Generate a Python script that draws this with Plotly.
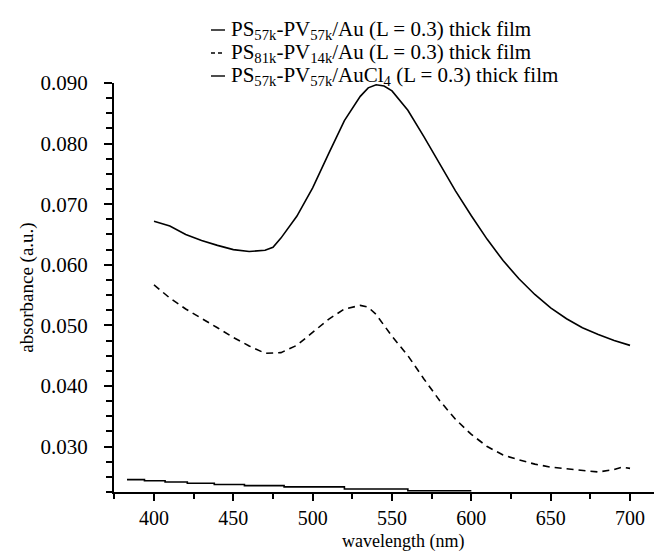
import plotly.graph_objects as go

# Wavelength (nm) and absorbance values
wl_au57 = [400, 410, 420, 430, 440, 450, 460, 470, 475, 480, 490, 500, 510, 520, 530,
           535, 540, 545, 550, 560, 570, 580, 590, 600, 610, 620, 630, 640, 650, 660,
           670, 680, 690, 700]
abs_au57 = [0.0672, 0.0664, 0.0650, 0.0640, 0.0632, 0.0625, 0.0622, 0.0624, 0.0629, 0.0644,
            0.0680, 0.0727, 0.0783, 0.0838, 0.0878, 0.0892, 0.0897, 0.0895, 0.0887, 0.0855,
            0.0812, 0.0766, 0.0722, 0.0681, 0.0642, 0.0607, 0.0577, 0.0551, 0.0529, 0.0511,
            0.0496, 0.0485, 0.0475, 0.0467]

wl_au81 = [400, 410, 420, 430, 440, 450, 460, 470, 480, 490, 500, 510, 520, 530, 535,
           540, 550, 560, 570, 580, 590, 600, 610, 620, 630, 640, 650, 660, 670, 680,
           690, 695, 700]
abs_au81 = [0.0567, 0.0545, 0.0527, 0.0512, 0.0496, 0.0480, 0.0466, 0.0454, 0.0455, 0.0467,
            0.0488, 0.0510, 0.0527, 0.0533, 0.0530, 0.0518, 0.0482, 0.0450, 0.0412, 0.0376,
            0.0345, 0.0320, 0.0300, 0.0286, 0.0278, 0.0271, 0.0266, 0.0263, 0.0260, 0.0258,
            0.0262, 0.0266, 0.0264]

wl_aucl4 = [383, 394, 407, 421, 438, 457, 482, 520, 560, 600]
abs_aucl4 = [0.02455, 0.02435, 0.02415, 0.02395, 0.02375, 0.02355, 0.02335, 0.02300, 0.02270, 0.02270]

names = [
    "PS<sub>57k</sub>-PV<sub>57k</sub>/Au (L = 0.3) thick film",
    "PS<sub>81k</sub>-PV<sub>14k</sub>/Au (L = 0.3) thick film",
    "PS<sub>57k</sub>-PV<sub>57k</sub>/AuCl<sub>4</sub> (L = 0.3) thick film",
]
dashes = ["solid", "4px,3px", "solid"]

x_title = "wavelength (nm)"
y_title = "absorbance (a.u.)"
x_ticks = [400, 450, 500, 550, 600, 650, 700]
y_ticks = [0.030, 0.040, 0.050, 0.060, 0.070, 0.080, 0.090]
y_ticklabels = ["0.030", "0.040", "0.050", "0.060", "0.070", "0.080", "0.090"]

FONT = "Liberation Serif"

fig = go.Figure()
fig.add_trace(go.Scatter(x=wl_au57, y=abs_au57, mode="lines", name=names[0],
                         line=dict(color="black", width=1.6)))
fig.add_trace(go.Scatter(x=wl_au81, y=abs_au81, mode="lines", name=names[1],
                         line=dict(color="black", width=1.6, dash="7px,5px")))
fig.add_trace(go.Scatter(x=wl_aucl4, y=abs_aucl4, mode="lines", name=names[2],
                         line=dict(color="black", width=1.6, shape="hv")))

# Legend drawn as text + short sample lines (as in the reference)
T, B, H = 75, 68, 552
plot_h = H - T - B
plot_w = 662 - 106
row_px = [22, 45, 68]
text_x_px, line_x0_px, line_x1_px = 221, 203, 217
for name, dash, ypx in zip(names, dashes, row_px):
    yp = (H - B - ypx) / plot_h
    fig.add_annotation(x=(text_x_px - 106) / plot_w, y=yp, xref="paper", yref="paper",
                       text=name, showarrow=False, xanchor="left", yanchor="middle",
                       font=dict(family=FONT, size=21, color="black"))
    fig.add_shape(type="line", xref="paper", yref="paper",
                  x0=(line_x0_px - 106) / plot_w, x1=(line_x1_px - 106) / plot_w,
                  y0=yp, y1=yp, line=dict(color="black", width=1.4, dash=dash))

# x-axis title placed below the tick labels
fig.add_annotation(x=(395 - 106) / plot_w, y=(H - B - 533) / plot_h, xref="paper", yref="paper",
                   text=x_title, showarrow=False, xanchor="center", yanchor="middle",
                   font=dict(family=FONT, size=18, color="black"))

fig.update_layout(
    width=662, height=552,
    margin=dict(l=106, r=0, t=T, b=B),
    paper_bgcolor="white", plot_bgcolor="white",
    font=dict(family=FONT, size=20, color="black"),
    showlegend=False,
    xaxis=dict(
        range=[374.8, 725.2], tickmode="array", tickvals=x_ticks,
        ticktext=[str(v) for v in x_ticks],
        showline=True, linecolor="black", linewidth=2,
        ticks="outside", ticklen=7, tickwidth=2, tickcolor="black",
        minor=dict(dtick=25, tick0=375, ticks="outside", ticklen=5, tickwidth=2, tickcolor="black"),
        showgrid=False, zeroline=False, ticklabelstandoff=0,
        tickfont=dict(family=FONT, size=20),
    ),
    yaxis=dict(
        range=[0.0225, 0.090], tickmode="array", tickvals=y_ticks, ticktext=y_ticklabels,
        showline=True, linecolor="black", linewidth=2,
        ticks="outside", ticklen=8, tickwidth=2, tickcolor="black",
        minor=dict(dtick=0.0025, tick0=0.0, ticks="outside", ticklen=6, tickwidth=2, tickcolor="black"),
        showgrid=False, zeroline=False, ticklabelstandoff=12,
        title=dict(text=y_title, font=dict(family=FONT, size=19), standoff=2),
        tickfont=dict(family=FONT, size=21),
    ),
)

fig.write_html("out.html")
